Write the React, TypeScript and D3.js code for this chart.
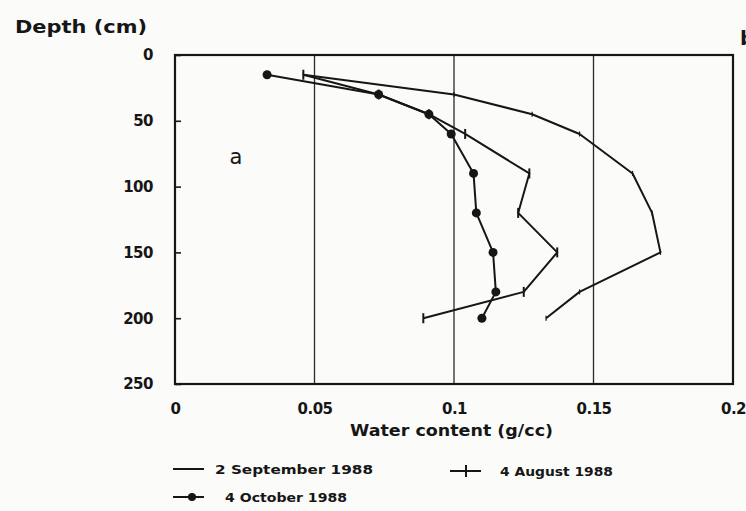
import React, { useRef, useEffect } from "react";
import * as d3 from "d3";

// depths (cm) shared by every profile
const depths = [15, 30, 45, 60, 90, 120, 150, 180, 200];
// water content (g/cc)
const sept = [0.046, 0.1, 0.128, 0.145, 0.164, 0.171, 0.174, 0.145, 0.133];
const aug = [0.046, 0.073, 0.091, 0.104, 0.127, 0.123, 0.137, 0.125, 0.089];
const oct = [0.033, 0.073, 0.091, 0.099, 0.107, 0.108, 0.114, 0.115, 0.11];

const xTicks = [0, 0.05, 0.1, 0.15, 0.2];
const yTicks = [0, 50, 100, 150, 200, 250];
const gridX = [0.05, 0.1, 0.15];

const FONT = "'DejaVu Sans', Verdana, sans-serif";
const INK = "#161616";

const App = () => {
    const svgRef = useRef<SVGSVGElement | null>(null);

    useEffect(() => {
        const width = 746;
        const height = 511;
        const svg = d3.select(svgRef.current);
        svg.selectAll("*").remove();

        const margin = { top: 55, left: 175, right: 13, bottom: 127 };
        const innerW = width - margin.left - margin.right;
        const innerH = height - margin.top - margin.bottom;

        const x = d3.scaleLinear().domain([0, 0.2]).range([0, innerW]);
        const y = d3.scaleLinear().domain([0, 250]).range([0, innerH]);

        svg.append("rect").attr("width", width).attr("height", height).attr("fill", "#fbfbfa");

        const g = svg.append("g").attr("transform", `translate(${margin.left},${margin.top})`);

        // vertical grid lines
        g.selectAll(".grid")
            .data(gridX)
            .enter()
            .append("line")
            .attr("x1", d => x(d))
            .attr("x2", d => x(d))
            .attr("y1", 0)
            .attr("y2", innerH)
            .attr("stroke", "#2a2a2a")
            .attr("stroke-width", 1.3);

        // y axis, ticks pointing inward
        const yAxis = g.append("g")
            .call(d3.axisLeft(y).tickValues(yTicks).tickSizeInner(-6).tickSizeOuter(0).tickPadding(22));
        yAxis.select(".domain").remove();
        yAxis.selectAll("line").attr("stroke", INK).attr("stroke-width", 1.6);
        yAxis.selectAll("text")
            .attr("font-family", FONT)
            .attr("font-size", 15)
            .attr("font-weight", "bold")
            .attr("letter-spacing", -0.5)
            .attr("fill", INK);

        const xAxis = g.append("g")
            .attr("transform", `translate(0,${innerH})`)
            .call(d3.axisBottom(x).tickValues(xTicks).tickSize(0).tickPadding(19).tickFormat(d => String(d)));
        xAxis.select(".domain").remove();
        xAxis.selectAll("text")
            .attr("font-family", FONT)
            .attr("font-size", 15)
            .attr("font-weight", "bold")
            .attr("letter-spacing", -0.5)
            .attr("fill", INK);

        // frame
        g.append("rect")
            .attr("width", innerW)
            .attr("height", innerH)
            .attr("fill", "none")
            .attr("stroke", INK)
            .attr("stroke-width", 2.2);

        const line = d3.line<number>()
            .x(d => x(d))
            .y((_, i) => y(depths[i]));

        [sept, aug, oct].forEach(values => {
            g.append("path")
                .datum(values)
                .attr("fill", "none")
                .attr("stroke", INK)
                .attr("stroke-width", 2)
                .attr("stroke-linejoin", "round")
                .attr("d", line);
        });

        // tiny ticks for Sept
        g.selectAll(".septTick")
            .data(sept)
            .enter()
            .append("line")
            .attr("x1", d => x(d))
            .attr("x2", d => x(d))
            .attr("y1", (_, i) => y(depths[i]) - 2.5)
            .attr("y2", (_, i) => y(depths[i]) + 2.5)
            .attr("stroke", INK)
            .attr("stroke-width", 1.2);

        // plus markers for Aug
        g.selectAll(".augTick")
            .data(aug)
            .enter()
            .append("line")
            .attr("x1", d => x(d))
            .attr("x2", d => x(d))
            .attr("y1", (_, i) => y(depths[i]) - 5)
            .attr("y2", (_, i) => y(depths[i]) + 5)
            .attr("stroke", INK)
            .attr("stroke-width", 2);

        // dots for Oct
        g.selectAll(".octDot")
            .data(oct)
            .enter()
            .append("circle")
            .attr("cx", d => x(d))
            .attr("cy", (_, i) => y(depths[i]))
            .attr("r", 4.5)
            .attr("fill", INK);

        // panel letters
        svg.append("text")
            .attr("x", 236)
            .attr("y", 164)
            .attr("text-anchor", "middle")
            .attr("font-family", FONT)
            .attr("font-size", 21)
            .attr("fill", INK)
            .text("a");

        svg.append("text")
            .attr("x", 740)
            .attr("y", 45)
            .attr("font-family", FONT)
            .attr("font-size", 20)
            .attr("font-weight", "bold")
            .attr("fill", INK)
            .text("b");

        svg.append("text")
            .attr("x", 15)
            .attr("y", 33)
            .attr("font-family", FONT)
            .attr("font-size", 18)
            .attr("font-weight", "bold")
            .attr("textLength", 132)
            .attr("lengthAdjust", "spacingAndGlyphs")
            .attr("fill", INK)
            .text("Depth (cm)");

        svg.append("text")
            .attr("x", 350)
            .attr("y", 436)
            .attr("font-family", FONT)
            .attr("font-size", 15)
            .attr("font-weight", "bold")
            .attr("textLength", 203)
            .attr("lengthAdjust", "spacingAndGlyphs")
            .attr("fill", INK)
            .text("Water content (g/cc)");

        // legend
        const legend = [
            { label: "2 September 1988", lx: 173, ly: 469, tx: 215, tw: 158, mark: "none" },
            { label: "4 August 1988", lx: 450, ly: 471, tx: 500, tw: 113, mark: "plus" },
            { label: "4 October 1988", lx: 173, ly: 497, tx: 225, tw: 122, mark: "dot" },
        ];
        legend.forEach(l => {
            const lg = svg.append("g").attr("transform", `translate(${l.lx},${l.ly})`);
            lg.append("line")
                .attr("x1", 0)
                .attr("x2", 31)
                .attr("stroke", INK)
                .attr("stroke-width", 2);
            if (l.mark === "plus") {
                lg.append("line")
                    .attr("x1", 16).attr("x2", 16)
                    .attr("y1", -6).attr("y2", 6)
                    .attr("stroke", INK).attr("stroke-width", 2);
            }
            if (l.mark === "dot") {
                lg.append("circle").attr("cx", 19).attr("r", 4).attr("fill", INK);
            }
            svg.append("text")
                .attr("x", l.tx)
                .attr("y", l.ly + 5)
                .attr("font-family", FONT)
                .attr("font-size", 13)
                .attr("font-weight", "bold")
                .attr("textLength", l.tw)
                .attr("lengthAdjust", "spacingAndGlyphs")
                .attr("fill", INK)
                .text(l.label);
        });
    }, []);

    return (
        <svg
            ref={svgRef}
            width={746}
            height={511}
            style={{ position: "absolute", left: 0, top: 0, display: "block" }}
        />
    );
};

export default App;
